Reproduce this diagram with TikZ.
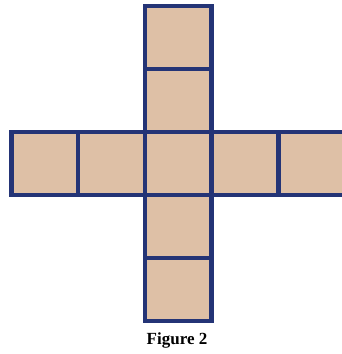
\documentclass[tikz,border=0pt]{standalone}
\usepackage{fontspec}
\setmainfont{Liberation Serif}
\definecolor{cellfill}{RGB}{222,192,166}
\definecolor{celledge}{RGB}{36,52,118}
\tikzset{
  cell/.style={draw=celledge, fill=cellfill, line width=4.5pt, minimum width=66.75pt, minimum height=63pt, inner sep=0pt, outer sep=0pt},
  caption/.style={font=\bfseries\fontsize{17}{17}\selectfont, text=black, inner sep=0pt}
}
\begin{document}
\begin{tikzpicture}[x=1pt,y=-1pt]
\useasboundingbox (0,0) rectangle (342,354);
\begin{scope}
\clip (0,0) rectangle (342,354);
\node[cell] (c1) at (178.175,37.5) {};
\node[cell] (c2) at (178.175,100.5) {};
\node[cell] (r1) at (44.675,163.5) {};
\node[cell] (r2) at (111.425,163.5) {};
\node[cell] (r3) at (178.175,163.5) {};
\node[cell] (r4) at (244.925,163.5) {};
\node[cell] (r5) at (311.675,163.5) {};
\node[cell] (c4) at (178.175,226.5) {};
\node[cell] (c5) at (178.175,289.5) {};
\end{scope}
\node[caption, anchor=base] (cap) at (177,344) {Figure 2};
\end{tikzpicture}
\end{document}
